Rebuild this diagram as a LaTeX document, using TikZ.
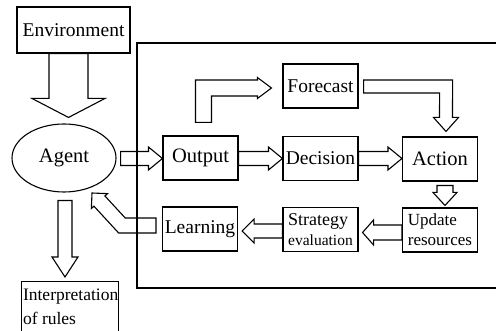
\documentclass[tikz,border=0pt]{standalone}
\usepackage{fontspec}
\setmainfont{Liberation Serif}
\usetikzlibrary{calc,shapes.geometric}

\tikzset{
  box/.style={draw, line width=1.1pt, minimum width=75pt, minimum height=44pt,
    inner sep=1pt, font=\fontsize{19.5}{21}\selectfont},
  bigfont/.style={font=\fontsize{20.5}{22}\selectfont},
  arrowline/.style={draw, line width=1.1pt, line join=miter},
  arrowdims/.code args={#1/#2/#3}{\def\shaftw{#1}\def\headw{#2}\def\headlen{#3}},
  arrowdims=7pt/11.5pt/14pt
}

% hollow block arrow from #2 to the tip #3
\newcommand\blockarrow[3][]{%
  \begin{scope}[#1]
    \coordinate (bs) at #2;
    \coordinate (be) at #3;
    \coordinate (bb) at ($(be)!\headlen!(bs)$);
    \draw[arrowline] ($(bs)!\shaftw!90:(be)$) -- ($(bb)!\shaftw!-90:(bs)$)
      -- ($(bb)!\headw!-90:(bs)$) -- (be) -- ($(bb)!\headw!90:(bs)$)
      -- ($(bb)!\shaftw!90:(bs)$) -- ($(bs)!\shaftw!-90:(be)$) -- cycle;
  \end{scope}}

% same with one bend at #3
\newcommand\bentarrow[4][]{%
  \begin{scope}[#1]
    \coordinate (bs) at #2;
    \coordinate (bc) at #3;
    \coordinate (be) at #4;
    \coordinate (bb) at ($(be)!\headlen!(bc)$);
    \coordinate (bl1) at ($(bs)!\shaftw!90:(bc)$);
    \coordinate (bl2) at ($(bc)!\shaftw!-90:(bs)$);
    \coordinate (bl3) at ($(bc)!\shaftw!90:(be)$);
    \coordinate (bl4) at ($(bb)!\shaftw!-90:(bc)$);
    \coordinate (br1) at ($(bs)!\shaftw!-90:(bc)$);
    \coordinate (br2) at ($(bc)!\shaftw!90:(bs)$);
    \coordinate (br3) at ($(bc)!\shaftw!-90:(be)$);
    \coordinate (br4) at ($(bb)!\shaftw!90:(bc)$);
    \draw[arrowline] (bl1) -- (intersection of bl1--bl2 and bl3--bl4) -- (bl4)
      -- ($(bb)!\headw!-90:(bc)$) -- (be) -- ($(bb)!\headw!90:(bc)$)
      -- (br4) -- (intersection of br1--br2 and br3--br4) -- (br1) -- cycle;
  \end{scope}}

\begin{document}
\begin{tikzpicture}[x=1pt, y=-1pt]
  \useasboundingbox (0,0) rectangle (496,331);

  \draw[line width=1.1pt] (520,43) -- (137,43) -- (137,288) -- (520,288);

  \node (env) [box, minimum width=113pt, minimum height=46pt] at (73.5,30) {Environment};
  \node (agent) [draw, ellipse, line width=1.1pt, minimum width=104pt, minimum height=68pt,
    inner sep=0pt, bigfont] at (64,158) {Agent};
  \node (output) [box, bigfont] at (200.5,158) {Output};
  \node (decision) [box] at (320.5,158.5) {Decision};
  \node (action) [box, bigfont] at (440,159) {Action};
  \node (forecast) [box] at (320.5,86) {Forecast};
  \node (update) [box, align=left, font=\fontsize{17}{20}\selectfont] at (440,230) {Update\\resources};
  \node (strategy) [box, align=left, font=\fontsize{15.5}{20}\selectfont] at (320.5,229.5)
    {{\fontsize{18}{20}\selectfont Strategy}\\evaluation};
  \node (learning) [box] at (200,229) {Learning};
  \node (interp) [draw, line width=1.1pt, anchor=north west, inner xsep=1.5pt, inner ysep=7pt,
    font=\fontsize{17.5}{24}\selectfont] at (21,281)
    {\parbox[t][70pt][t]{94pt}{Interpretation\\of rules}};

  \blockarrow[arrowdims=19.5pt/36.5pt/19pt]{($(env.south)+(-5,0)$)}{($(agent.north)+(4.5,-6)$)}
  \blockarrow{($(agent.east)+(4,0.5)$)}{($(output.west)+(0,0.5)$)}
  \blockarrow{($(output.east)+(0,0.5)$)}{($(decision.west)+(0,0)$)}
  \blockarrow{(decision.east)}{($(action.west)+(0,-0.5)$)}
  \bentarrow[arrowdims=8pt/10.5pt/14pt]{($(output.north)+(3,-13)$)}
    {($(output.north |- forecast.west)+(3,2)$)}{($(forecast.west)+(-11,2)$)}
  \bentarrow[arrowdims=6.5pt/12.5pt/14pt]{($(forecast.east)+(5,0.5)$)}
    {($(forecast.east -| action.north)+(6,0.5)$)}{($(action.north)+(6,-5)$)}
  \blockarrow[arrowdims=8pt/12pt/13pt]{($(action.south)+(5,4)$)}{($(update.north)+(5,-2)$)}
  \blockarrow[arrowdims=7.5pt/12.5pt/11pt]{($(update.west)+(0,2.5)$)}{($(strategy.east |- update.west)+(4,2.5)$)}
  \blockarrow[arrowdims=7pt/12pt/12pt]{($(strategy.west)+(0,1.5)$)}{($(learning.east |- strategy.west)+(4,1.5)$)}
  \bentarrow[arrowdims=7.5pt/11pt/11pt]{($(learning.west)+(-6,-3.5)$)}
    {($(learning.west)+(-40,-3.5)$)}{($(agent.center)+(28,35)$)}
  \blockarrow[arrowdims=7pt/13pt/20pt]{($(agent.south)+(1,8)$)}{($(interp.north -| agent.south)+(1,-4)$)}
\end{tikzpicture}
\end{document}
